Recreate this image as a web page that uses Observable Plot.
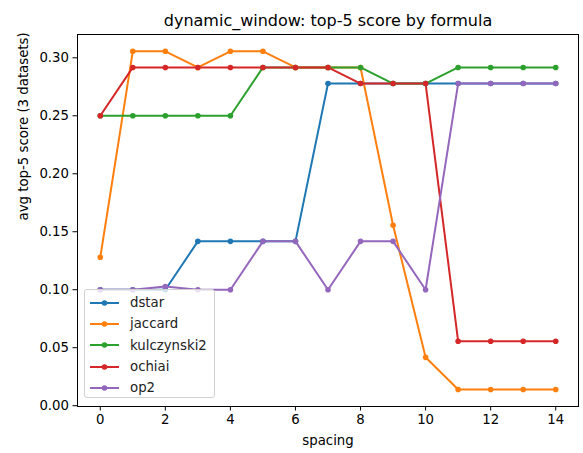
<!DOCTYPE html>
<html>
<head>
<meta charset="utf-8">
<script src="https://cdn.jsdelivr.net/npm/d3@7"></script>
<script src="https://cdn.jsdelivr.net/npm/@observablehq/plot@0.6"></script>
<style>
  body { margin: 0; background: #fff; }
  #wrap { position: relative; width: 583px; height: 453px; font-family: "DejaVu Sans", sans-serif; }
  #legend { position: absolute; left: 84px; top: 289px; width: 131px; height: 109px; box-sizing: border-box;
            border: 1px solid #d0d0d0; border-radius: 3px; background: rgba(255,255,255,0.8);
            font-size: 13.3px; color: #222; padding-top: 2px; }
  .row { display: flex; align-items: center; height: 21.3px; }
  .row svg { margin-left: 5px; margin-right: 11px; }
</style>
</head>
<body>
<div id="wrap"></div>
<script>
const title = "dynamic_window: top-5 score by formula";
const xLabel = "spacing";
const yLabel = "avg top-5 score (3 datasets)";
const formulas = ["dstar", "jaccard", "kulczynski2", "ochiai", "op2"];
const colors = ["#1f77b4", "#ff7f0e", "#2ca02c", "#d62728", "#9467bd"];
const spacing = [0, 1, 2, 3, 4, 5, 6, 7, 8, 9, 10, 11, 12, 13, 14];
const dstar       = [0.1, 0.1, 0.1, 0.1417, 0.1417, 0.1417, 0.1417, 0.2778, 0.2778, 0.2778, 0.2778, 0.2778, 0.2778, 0.2778, 0.2778];
const jaccard     = [0.128, 0.3056, 0.3056, 0.2917, 0.3056, 0.3056, 0.2917, 0.2917, 0.2917, 0.1556, 0.0417, 0.0139, 0.0139, 0.0139, 0.0139];
const kulczynski2 = [0.25, 0.25, 0.25, 0.25, 0.25, 0.2917, 0.2917, 0.2917, 0.2917, 0.2778, 0.2778, 0.2917, 0.2917, 0.2917, 0.2917];
const ochiai      = [0.25, 0.2917, 0.2917, 0.2917, 0.2917, 0.2917, 0.2917, 0.2917, 0.2778, 0.2778, 0.2778, 0.0556, 0.0556, 0.0556, 0.0556];
const op2         = [0.1, 0.1, 0.1028, 0.1, 0.1, 0.1417, 0.1417, 0.1, 0.1417, 0.1417, 0.1, 0.2778, 0.2778, 0.2778, 0.2778];
const xTicks = [0, 2, 4, 6, 8, 10, 12, 14];
const yTicks = [0, 0.05, 0.1, 0.15, 0.2, 0.25, 0.3];

const seriesValues = [dstar, jaccard, kulczynski2, ochiai, op2];
const rows = [];
formulas.forEach((f, i) => spacing.forEach((s, j) => rows.push({formula: f, spacing: s, score: seriesValues[i][j]})));

const plot = Plot.plot({
  width: 583,
  height: 453,
  marginLeft: 77,
  marginRight: 5,
  marginTop: 34,
  marginBottom: 47,
  style: { fontFamily: "DejaVu Sans, sans-serif", fontSize: "13.3px", color: "#000", background: "#fff", overflow: "visible" },
  x: { domain: [-0.7, 14.7] },
  y: { domain: [-0.0007, 0.3201] },
  color: { domain: formulas, range: colors },
  marks: [
    Plot.line(rows, { x: "spacing", y: "score", z: "formula", stroke: "formula", strokeWidth: 2 }),
    Plot.dot(rows, { x: "spacing", y: "score", fill: "formula", r: 2.8 }),
    Plot.frame({ stroke: "#000", strokeWidth: 1 }),
    Plot.axisX({ ticks: xTicks, tickSize: 4.5, tickPadding: 4, label: null, fontSize: "13.3px" }),
    Plot.axisY({ ticks: yTicks, tickSize: 4.5, tickPadding: 4, tickFormat: d3.format(".2f"), label: null, fontSize: "13.3px" }),
    Plot.text([xLabel], { frameAnchor: "bottom", dy: 34, fontSize: 13.3, text: d => d, lineAnchor: "middle" }),
    Plot.text([yLabel], { frameAnchor: "left", dx: -54, rotate: -90, fontSize: 13.3, text: d => d, lineAnchor: "middle" }),
    Plot.text([title], { frameAnchor: "top", dy: -14, fontSize: 16, text: d => d, lineAnchor: "middle" })
  ]
});

const wrap = document.getElementById("wrap");
wrap.appendChild(plot);

const legend = document.createElement("div");
legend.id = "legend";
formulas.forEach((f, i) => {
  const row = document.createElement("div");
  row.className = "row";
  row.innerHTML = `<svg width="29" height="8"><line x1="0" y1="4" x2="29" y2="4" stroke="${colors[i]}" stroke-width="2"/><circle cx="14.5" cy="4" r="2.8" fill="${colors[i]}"/></svg><span>${f}</span>`;
  legend.appendChild(row);
});
wrap.appendChild(legend);
</script>
</body>
</html>
